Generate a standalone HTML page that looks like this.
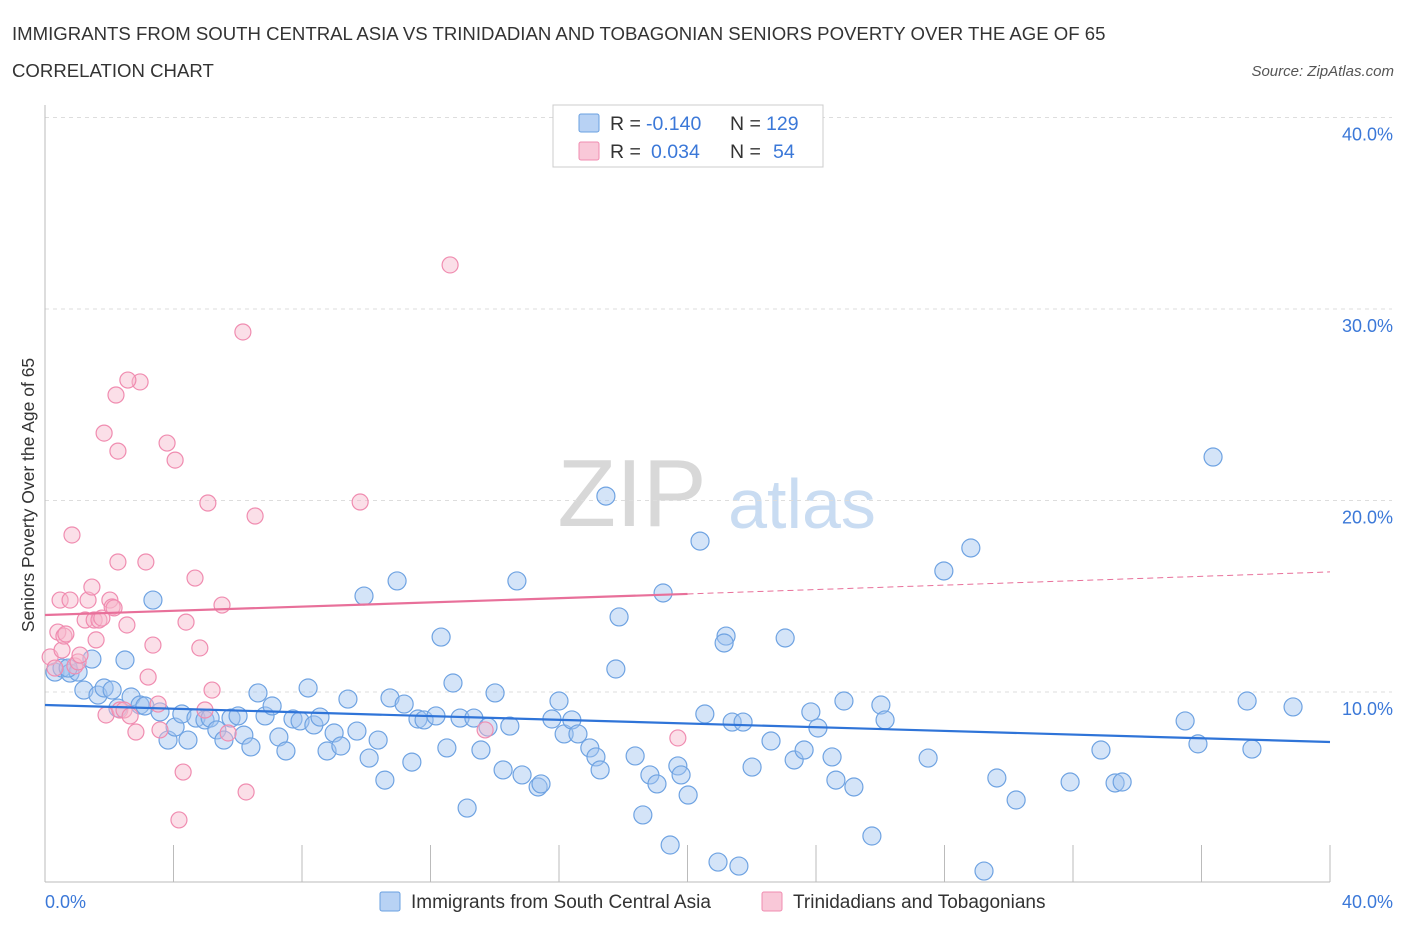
<!DOCTYPE html>
<html><head><meta charset="utf-8"><style>
body{margin:0;background:#fff;font-family:"Liberation Sans",sans-serif;}
svg text{font-family:"Liberation Sans",sans-serif;}
</style></head><body>
<svg id="chart" width="1406" height="930">
<text x="12" y="40" font-size="18.6" fill="#333">IMMIGRANTS FROM SOUTH CENTRAL ASIA VS TRINIDADIAN AND TOBAGONIAN SENIORS POVERTY OVER THE AGE OF 65</text>
<text x="12" y="77" font-size="18.6" fill="#333">CORRELATION CHART</text>
<text x="1394" y="76" font-size="15" fill="#555" font-style="italic" text-anchor="end">Source: ZipAtlas.com</text>
<text x="632" y="526" font-size="96" fill="#d8d8d8" font-family="Liberation Serif" text-anchor="middle">ZIP</text>
<text x="802" y="528" font-size="70" fill="#c9dcf2" text-anchor="middle">atlas</text>
<g id="grid"></g>
<line x1="45" y1="105" x2="45" y2="882" stroke="#bbb"/>
<line x1="45" y1="882" x2="1330" y2="882" stroke="#bbb"/>
<text transform="translate(34,495) rotate(-90)" font-size="17.5" fill="#333" text-anchor="middle">Seniors Poverty Over the Age of 65</text>
<text x="45" y="908" font-size="18" fill="#3b78d8">0.0%</text>
<text x="1393" y="908" font-size="18" fill="#3b78d8" text-anchor="end">40.0%</text>
<g id="pts"></g>
<g id="lines"></g>
<g>
<rect x="553" y="105" width="270" height="62" fill="#fff" stroke="#ccc"/>
<rect x="579" y="114" width="20" height="18" fill="#b8d2f4" stroke="#6aa0e0" rx="2"/>
<rect x="579" y="142" width="20" height="18" fill="#f9c8d8" stroke="#f08cb0" rx="2"/>
<text x="610" y="130" font-size="19.5" fill="#333">R =</text>
<text x="646" y="130" font-size="19.5" fill="#3b78d8">-0.140</text>
<text x="730" y="130" font-size="19.5" fill="#333">N =</text>
<text x="766" y="130" font-size="19.5" fill="#3b78d8">129</text>
<text x="610" y="158" font-size="19.5" fill="#333">R =</text>
<text x="651" y="158" font-size="19.5" fill="#3b78d8">0.034</text>
<text x="730" y="158" font-size="19.5" fill="#333">N =</text>
<text x="773" y="158" font-size="19.5" fill="#3b78d8">54</text>
</g>
<g>
<rect x="380" y="892" width="20" height="19" fill="#b8d2f4" stroke="#6aa0e0" rx="2"/>
<text x="411" y="908" font-size="19" fill="#333">Immigrants from South Central Asia</text>
<rect x="762" y="892" width="20" height="19" fill="#f9c8d8" stroke="#f08cb0" rx="2"/>
<text x="793" y="908" font-size="19" fill="#333">Trinidadians and Tobagonians</text>
</g>
</svg>
<script>
const yTicks=[10,20,30,40];
const yTickLabels=["10.0%","20.0%","30.0%","40.0%"];
const xTicks=[0,4,8,12,16,20,24,28,32,36,40];
const blueX=[0.31,0.53,0.78,1.03,0.72,1.46,1.21,1.65,1.84,2.09,2.49,2.27,2.68,3.36,2.96,3.11,3.58,3.83,4.05,4.26,4.45,4.70,4.98,5.14,5.35,5.57,5.79,6.01,6.19,6.41,6.63,6.85,7.07,7.28,7.50,7.72,7.94,8.19,8.37,8.56,8.78,9.00,9.21,9.43,9.71,9.93,10.09,10.37,10.58,10.74,10.96,11.18,11.42,11.61,11.80,12.17,12.33,12.51,12.70,12.92,13.14,13.35,13.57,13.79,14.01,14.26,14.47,14.69,14.85,15.35,15.44,15.78,16.00,16.16,16.40,16.59,16.96,17.15,17.28,17.46,17.77,17.87,18.37,18.61,18.83,19.05,19.24,19.46,19.70,19.80,20.02,20.39,20.54,20.95,21.20,21.14,21.39,21.60,21.73,22.01,22.60,23.04,23.32,23.63,23.84,24.06,24.50,24.62,24.87,25.18,25.74,26.02,26.15,27.49,27.98,28.82,29.23,29.63,30.23,31.91,32.87,33.31,33.53,35.49,35.89,36.36,37.42,37.57,38.85];
const blueY=[11.04,11.25,10.99,11.04,11.25,11.72,10.10,9.84,10.21,10.10,11.67,9.16,9.74,14.80,9.32,9.27,8.96,7.49,8.17,8.85,7.49,8.64,8.54,8.64,8.02,7.49,8.64,8.75,7.75,7.13,9.95,8.75,9.27,7.65,6.92,8.59,8.49,10.21,8.28,8.69,6.92,7.86,7.18,9.63,7.96,15.01,6.55,7.49,5.40,9.69,15.80,9.37,6.34,8.59,8.54,8.75,12.87,7.08,10.47,8.64,3.94,8.64,6.97,8.17,9.95,5.93,8.22,15.80,5.67,5.04,5.20,8.59,9.53,7.81,8.54,7.81,7.08,6.61,5.93,20.23,11.20,13.92,6.66,3.58,5.67,5.20,15.17,2.01,6.14,5.67,4.62,17.88,8.85,1.12,12.92,12.56,8.43,0.91,8.43,6.08,7.44,12.82,6.45,6.97,8.96,8.12,6.61,5.40,9.53,5.04,2.48,9.32,8.54,6.55,16.32,17.52,0.65,5.51,4.36,5.30,6.97,5.25,5.30,8.49,7.29,22.27,9.53,7.02,9.22];
const pinkX=[0.16,0.31,0.40,0.47,0.53,0.59,0.65,0.78,0.84,0.93,1.03,1.09,1.25,1.34,1.46,1.53,1.59,1.68,1.77,1.90,2.02,2.09,2.15,2.33,2.46,2.55,2.65,2.83,2.96,2.21,1.84,2.27,2.58,2.27,3.14,3.21,3.36,3.52,3.58,3.80,4.05,4.17,4.30,4.39,4.67,4.82,5.07,5.20,4.98,5.51,5.70,6.16,6.26,6.54,9.81,12.61,13.70,19.70];
const pinkY=[11.83,11.25,13.13,14.80,12.19,12.92,13.03,14.80,18.20,11.36,11.57,11.93,13.76,14.80,15.48,13.76,12.72,13.76,13.86,8.80,14.80,14.44,14.39,9.06,9.06,13.50,8.75,7.91,26.19,25.51,23.52,22.58,26.29,16.79,16.79,10.78,12.45,9.37,8.02,23.00,22.11,3.32,5.82,13.65,15.95,12.30,19.87,10.10,9.06,14.54,7.86,28.80,4.78,19.19,19.92,32.30,8.02,7.60];
const blueFit=[9.32,7.39];
const pinkFit=[14.02,15.12,16.27];
const X=v=>45+v*1285/40, Y=v=>883.5-v*19.15;
const NS="http://www.w3.org/2000/svg";
function mk(t,a,p){const e=document.createElementNS(NS,t);for(const k in a)e.setAttribute(k,a[k]);p.appendChild(e);return e;}
const grid=document.getElementById('grid');
yTicks.forEach((v,i)=>{
 const l=mk('line',{x1:45,x2:1392,y1:Y(v),y2:Y(v),stroke:'#ddd','stroke-dasharray':'4,4'},grid);
 
 
 const t=mk('text',{x:1393,y:Y(v)+23,'font-size':18,fill:'#3b78d8','text-anchor':'end'},grid);
 t.textContent=yTickLabels[i];
 
 
});
xTicks.forEach(v=>{
 const l=mk('line',{x1:X(v),x2:X(v),y1:845,y2:882,stroke:'#bbb'},grid);
 
 
});
const pts=document.getElementById('pts');
blueX.forEach((v,i)=>{
 const c=mk('circle',{cx:X(v),cy:Y(blueY[i]),r:9,fill:'rgba(160,196,240,0.45)',stroke:'#6fa3e2','stroke-width':1.2},pts);
 
 
});
pinkX.forEach((v,i)=>{
 const c=mk('circle',{cx:X(v),cy:Y(pinkY[i]),r:8,fill:'rgba(246,184,204,0.45)',stroke:'#f08cb0','stroke-width':1.2},pts);
 
 
});
const lines=document.getElementById('lines');
const b=mk('line',{x1:X(0),y1:Y(blueFit[0]),x2:X(40),y2:Y(blueFit[1]),stroke:'#2f74d8','stroke-width':2.2},lines);


const p1=mk('line',{x1:X(0),y1:Y(pinkFit[0]),x2:X(20),y2:Y(pinkFit[1]),stroke:'#e8709a','stroke-width':2.2},lines);


const p2=mk('line',{x1:X(20),y1:Y(pinkFit[1]),x2:X(40),y2:Y(pinkFit[2]),stroke:'#e8709a','stroke-width':1,'stroke-dasharray':'6,4'},lines);


</script>
</body></html>
